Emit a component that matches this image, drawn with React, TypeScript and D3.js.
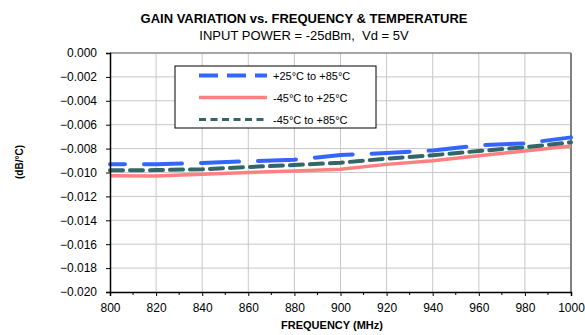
import { useEffect, useRef } from 'react';
import * as d3 from 'd3';

const freqs = [800, 820, 840, 860, 880, 900, 920, 940, 960, 980, 1000];
const plus25to85 = [-0.0093, -0.0093, -0.0092, -0.00906, -0.00893, -0.00854, -0.00837, -0.00815, -0.00773, -0.00756, -0.00706];
const minus45to25 = [-0.01027, -0.0103, -0.01015, -0.00999, -0.00988, -0.00973, -0.00932, -0.00901, -0.0086, -0.0082, -0.00778];
const minus45to85 = [-0.00982, -0.0098, -0.00973, -0.00954, -0.00937, -0.00918, -0.00884, -0.00856, -0.0082, -0.00789, -0.00747];
const seriesNames = ['+25°C to +85°C', '-45°C to +25°C', '-45°C to +85°C'];
const yTicks = [0, -0.002, -0.004, -0.006, -0.008, -0.01, -0.012, -0.014, -0.016, -0.018, -0.02];
const xTicks = [800, 820, 840, 860, 880, 900, 920, 940, 960, 980, 1000];

const W = 585;
const H = 335;
const FONT = '"Liberation Sans", Arial, sans-serif';

const App = () => {
    const ref = useRef<SVGSVGElement>(null);

    useEffect(() => {
        if (!ref.current) return;
        const svg = d3.select(ref.current);
        svg.selectAll('*').remove();

        const left = 110, right = 571, top = 53, bottom = 292;
        const x = d3.scaleLinear().domain([800, 1000]).range([left, right]);
        const y = d3.scaleLinear().domain([-0.02, 0]).range([bottom, top]);

        // grid
        const grid = svg.append('g');
        grid.selectAll('line.v')
            .data(xTicks.slice(1, -1))
            .join('line')
            .attr('x1', d => x(d)).attr('x2', d => x(d))
            .attr('y1', top).attr('y2', bottom)
            .attr('stroke', '#c8c8c8').attr('stroke-width', 1);
        grid.selectAll('line.h')
            .data(yTicks.slice(1, -1))
            .join('line')
            .attr('x1', left).attr('x2', right)
            .attr('y1', d => y(d)).attr('y2', d => y(d))
            .attr('stroke', '#c8c8c8').attr('stroke-width', 1);

        // top / right border
        svg.append('line').attr('x1', left).attr('x2', right).attr('y1', top).attr('y2', top)
            .attr('stroke', '#888').attr('stroke-width', 1.5);
        svg.append('line').attr('x1', right).attr('x2', right).attr('y1', top).attr('y2', bottom)
            .attr('stroke', '#808080').attr('stroke-width', 2);

        // series
        const line = d3.line<number>()
            .x((_, i) => x(freqs[i]))
            .y(d => y(d));

        svg.append('path').datum(minus45to25)
            .attr('d', line).attr('fill', 'none')
            .attr('stroke', '#ff8080').attr('stroke-width', 3.5);
        svg.append('path').datum(minus45to85)
            .attr('d', line).attr('fill', 'none')
            .attr('stroke', '#336666').attr('stroke-width', 4)
            .attr('stroke-dasharray', '13,7').attr('stroke-dashoffset', 0)
            .attr('stroke-linecap', 'round');
        svg.append('path').datum(plus25to85)
            .attr('d', line).attr('fill', 'none')
            .attr('stroke', '#3366ff').attr('stroke-width', 4)
            .attr('stroke-dasharray', '38,19').attr('stroke-dashoffset', 23)
            .attr('stroke-linecap', 'round');

        // axes
        const xAxis = svg.append('g')
            .attr('transform', `translate(0,${bottom})`)
            .call(d3.axisBottom(x).tickValues(xTicks).tickSize(4).tickFormat(d3.format('d')));
        xAxis.select('.domain').attr('stroke', '#000').attr('stroke-width', 1.5);
        xAxis.selectAll('text').attr('font-family', FONT).attr('font-size', 12).attr('fill', '#000').attr('dy', '1.1em');
        svg.append('g')
            .attr('transform', `translate(0,${bottom})`)
            .selectAll('line')
            .data(d3.range(810, 1000, 20))
            .join('line')
            .attr('x1', d => x(d)).attr('x2', d => x(d))
            .attr('y1', 0).attr('y2', 3)
            .attr('stroke', '#000');

        const yAxis = svg.append('g')
            .attr('transform', `translate(${left},0)`)
            .call(d3.axisLeft(y).tickValues(yTicks).tickSize(4).tickFormat(d3.format('.3f')));
        yAxis.select('.domain').attr('stroke', '#000').attr('stroke-width', 1.5);
        yAxis.selectAll('text').attr('font-family', FONT).attr('font-size', 12).attr('fill', '#000').attr('dx', '-0.5em');

        // titles
        svg.append('text').attr('x', 304).attr('y', 23).attr('text-anchor', 'middle')
            .attr('font-family', FONT).attr('font-size', 13).attr('font-weight', 'bold')
            .text('GAIN VARIATION vs. FREQUENCY & TEMPERATURE');
        svg.append('text').attr('x', 304).attr('y', 40).attr('text-anchor', 'middle')
            .attr('font-family', FONT).attr('font-size', 13)
            .style('white-space', 'pre')
            .text('INPUT POWER = -25dBm,  Vd = 5V');
        svg.append('text').attr('x', 332).attr('y', 329).attr('text-anchor', 'middle')
            .attr('font-family', FONT).attr('font-size', 11).attr('font-weight', 'bold')
            .text('FREQUENCY (MHz)');
        svg.append('text').attr('transform', 'translate(23,162) rotate(-90)').attr('text-anchor', 'middle')
            .attr('font-family', FONT).attr('font-size', 10).attr('font-weight', 'bold')
            .text('(dB/°C)');

        // legend
        const lg = svg.append('g');
        lg.append('rect').attr('x', 175).attr('y', 66).attr('width', 201).attr('height', 62)
            .attr('fill', '#fff').attr('stroke', '#000').attr('stroke-width', 1);
        const styles = [
            { c: '#3366ff', w: 4, dash: '19,9' },
            { c: '#ff8080', w: 3.5, dash: null },
            { c: '#336666', w: 3, dash: '7,4.5' },
        ];
        seriesNames.forEach((name, i) => {
            const yy = 75.5 + i * 22;
            const l = lg.append('line').attr('x1', 199).attr('x2', 267).attr('y1', yy).attr('y2', yy)
                .attr('stroke', styles[i].c).attr('stroke-width', styles[i].w);
            if (styles[i].dash) l.attr('stroke-dasharray', styles[i].dash);
            lg.append('text').attr('x', 273).attr('y', yy + 4).attr('font-family', FONT).attr('font-size', 11)
                .text(name);
        });
    }, []);

    return (
        <svg ref={ref} width={W} height={H} style={{ position: 'absolute', left: 0, top: 0, background: '#fff' }} />
    );
};

export default App;
